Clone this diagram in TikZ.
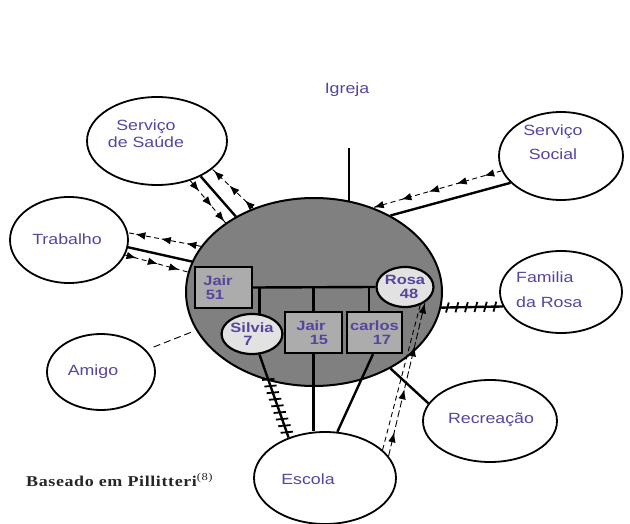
\documentclass[tikz,border=0pt]{standalone}
\usepackage{fontspec}
\usetikzlibrary{shapes.geometric,decorations.markings,arrows.meta}
\newfontfamily\labfont[FakeStretch=1.2]{Liberation Sans}
\newfontfamily\kinfont[FakeStretch=1.22]{Liberation Sans}
\newfontfamily\notefont[FakeStretch=1.2,LetterSpace=4]{Liberation Serif}
\definecolor{nametext}{RGB}{88,68,158}
\definecolor{homefill}{RGB}{128,128,128}
\definecolor{boxfill}{RGB}{172,172,172}
\definecolor{discfill}{RGB}{226,226,226}
\tikzset{
  place/.style={ellipse, draw, line width=1.8pt, fill=white, inner sep=0pt},
  placename/.style={inner sep=0pt, text=nametext, align=center, font=\labfont\fontsize{14.8}{17}\selectfont},
  member/.style={draw, line width=2.2pt, fill=boxfill, inner sep=0pt, align=center, text=nametext,
    font=\kinfont\bfseries\fontsize{13.5}{13.5}\selectfont},
  memberdisc/.style={member, ellipse, fill=discfill},
  tie/.style={line width=2.4pt},
  flow/.style={line width=0.9pt, dash pattern=on 5pt off 3.5pt},
  arrowsat/.style={postaction={decorate, decoration={markings,
    mark=between positions #1 with {\arrow{Latex[length=10pt,width=7.5pt]}}}}},
  stress/.style n args={3}{tie, postaction={decorate, decoration={markings,
    mark=between positions #1 step #2 with {\draw[line width=1.8pt] (-1.5pt,-#3) -- (1.5pt,#3);}}}}
}
\begin{document}
\begin{tikzpicture}[x=1pt,y=-1pt]
\useasboundingbox (0,0) rectangle (630,524);
\fill[white] (0,0) rectangle (630,524);

% surrounding systems
\node[place, minimum width=140pt, minimum height=88pt] (saude) at (157,141) {};
\node[placename] (saudetxt) at (146,134) {Serviço\\de Saúde};
\node[place, minimum width=124pt, minimum height=88pt] (social) at (561,156) {};
\node[placename, font=\labfont\fontsize{14.8}{24}\selectfont] (socialtxt) at (553,142) {Serviço\\Social};
\node[place, minimum width=118pt, minimum height=86pt] (trabalho) at (69,240) {};
\node[placename] (trabalhotxt) at (67,239) {Trabalho};
\node[place, minimum width=108pt, minimum height=76pt] (amigo) at (101,372) {};
\node[placename] (amigotxt) at (93,372) {Amigo};
\node[place, minimum width=122pt, minimum height=82pt] (familia) at (561,292) {};
\node[placename, align=left, anchor=west, font=\labfont\fontsize{14.8}{25}\selectfont] (familiatxt) at (516,289.5) {Familia\\da Rosa};
\node[place, minimum width=134pt, minimum height=82pt] (recreacao) at (490,421) {};
\node[placename] (recreacaotxt) at (491,420) {Recreação};
\node[place, minimum width=142pt, minimum height=92pt] (escola) at (325,478) {};
\node[placename] (escolatxt) at (308,479) {Escola};
\node[placename] (igreja) at (347,90) {Igreja};

% the household
\node[ellipse, draw, line width=2pt, fill=homefill, minimum width=256pt, minimum height=188pt, inner sep=0pt] (home) at (314,292) {};
\node[member, minimum width=57pt, minimum height=41pt] (jair51) at (223.5,287.5) {Jair\hspace*{11pt}\\51\hspace*{17pt}};
\node[member, minimum width=57pt, minimum height=41pt] (jair15) at (313.5,332.5) {Jair\hspace*{5pt}\\\hspace*{11pt}15};
\node[member, minimum width=55pt, minimum height=41pt] (carlos) at (374.5,332.5) {carlos\\\hspace*{15pt}17};
\node[memberdisc, minimum width=58pt, minimum height=40pt] (silvia) at (252,334) {Silvia\\7\hspace*{8pt}};
\node[memberdisc, minimum width=56pt, minimum height=40pt] (rosa) at (405,287) {Rosa\\\hspace*{8pt}48};

% kinship lines
\coordinate (carlosdrop) at ([xshift=-5.5pt]carlos.north);
\draw[tie] (jair51.east) -- (rosa.west);
\draw[tie] (silvia.70) -- (silvia.70 |- jair51.east);
\draw[tie] (jair15.north) -- (jair15.north |- jair51.east);
\draw[tie] (carlosdrop) -- (carlosdrop |- jair51.east);

% ties to the outside
\coordinate (spire) at (348,148);
\coordinate (carlosfoot) at ([xshift=-1.5pt]carlos.south);
\draw[tie] (home.69) -- (home.69 |- spire);
\draw[tie] (social.208) -- (home.45);
\draw[flow, arrowsat={0.135 and 1 step 0.215}] (social.194) -- (home.55);
\draw[tie] (saude.-39) -- (home.136);
\draw[flow, arrowsat={0.25 and 1 step 0.36}] (saude.-50) -- (home.142);
\draw[flow, arrowsat={0.2 and 1 step 0.38}] (home.126) -- (saude.-27);
\draw[tie] (trabalho.-7) -- (home.166);
\draw[flow, arrowsat={0.2 and 1 step 0.35}] (home.158) -- (trabalho.7);
\draw[flow, arrowsat={0.18 and 1 step 0.34}] (trabalho.-15) -- (home.171);
\draw[flow, dash pattern=on 7pt off 4pt, shorten <=8pt, shorten >=3pt] (amigo.26) -- (home.198);
\draw[stress={0.1 and 0.95}{9.5pt}{5pt}] (home.-7) -- (familia.-166);
\draw[stress={0.3 and 0.97}{7pt}{6pt}] (silvia.-70) -- (escola.132);
\draw[tie] (jair15.south) -- (jair15.south |- escola.north);
\draw[tie] (carlosfoot) -- (escola.75);
\draw[tie] (home.-45) -- (recreacao.164);
\draw[flow] (escola.26) -- (rosa.-50);
\draw[flow, dash pattern=on 7pt off 3pt, arrowsat={0.155 and 1 step 0.28}] (escola.19) -- (rosa.-38);

% source note
\node[anchor=base west, inner sep=0pt, text=black!85, font=\notefont\bfseries\fontsize{15}{17}\selectfont] (source) at (26,486) {Baseado em Pillitteri\textsuperscript{\mdseries(8)}};
\end{tikzpicture}
\end{document}
